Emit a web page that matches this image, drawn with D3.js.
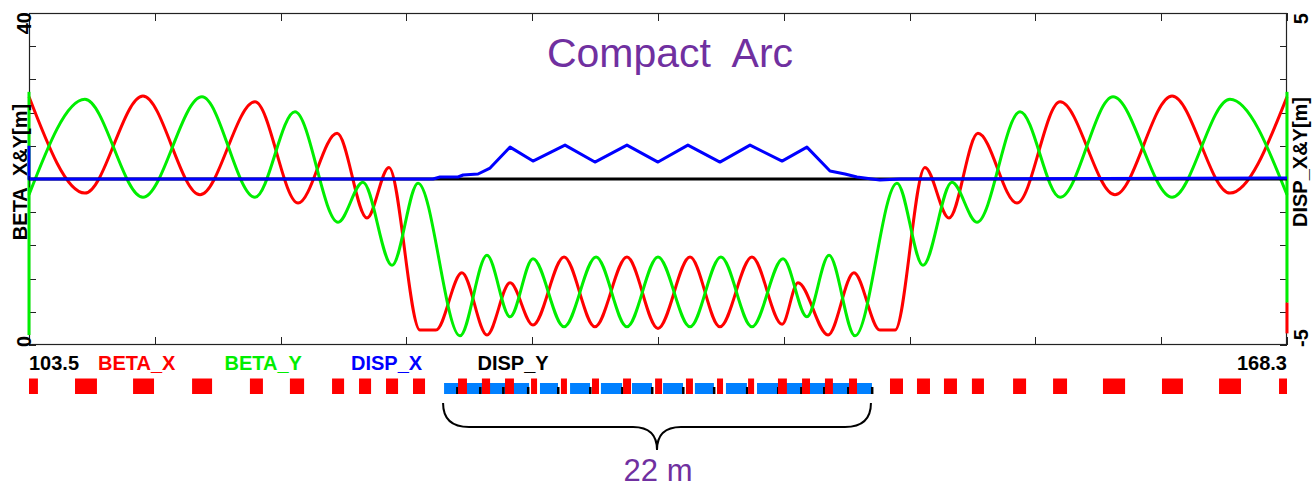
<!DOCTYPE html>
<meta charset="utf-8">
<style>
    body { margin: 0; background: #fff; }
    text { font-family: "Liberation Sans", Arial, sans-serif; }
    .lab { font-weight: bold; font-size: 20px; }
    .axis path { display: none; }
    .axis line { stroke: #222; shape-rendering: crispEdges; }
    .curve { fill: none; stroke-width: 3; stroke-linejoin: round; }
</style>
<body>
<script src="https://cdn.jsdelivr.net/npm/d3@7"></script>
<script>

// lattice range [m]
var sRange = [103.5, 168.3];

// BETA_X [m] (s, beta)
var betaX = [
    [103.5, 29.9], [106.38, 18.3], [109.37, 30.0], [112.31, 18.1], [115.14, 29.3],
    [117.36, 17.1], [119.37, 25.5], [120.91, 15.3], [122.04, 21.4], [123.64, 1.8],
    [124.46, 1.8], [125.8, 8.7], [127.09, 1.2], [128.28, 7.5], [129.46, 2.4],
    [131.06, 10.6], [132.65, 2.2], [134.3, 10.6], [135.9, 2.0], [137.55, 10.6],
    [139.09, 2.2], [140.74, 10.6], [142.29, 2.5], [143.11, 7.5], [144.66, 1.2],
    [145.99, 8.7], [147.33, 1.8], [148.11, 1.8], [149.65, 21.4], [150.89, 15.3],
    [152.38, 25.5], [154.39, 17.1], [156.61, 29.3], [159.44, 18.1], [162.38, 30.0],
    [165.36, 18.3], [168.3, 29.9]
];

// BETA_Y [m]
var betaY = [
    [103.5, 18.1], [106.38, 29.6], [109.37, 17.8], [112.41, 29.9], [115.14, 17.8],
    [117.2, 28.1], [119.42, 14.8], [120.7, 19.6], [122.2, 9.6], [123.54, 19.5],
    [125.7, 1.1], [127.09, 10.8], [128.28, 3.4], [129.46, 10.4], [131.06, 2.2],
    [132.71, 10.6], [134.3, 2.2], [135.9, 10.6], [137.55, 2.2], [139.14, 10.6],
    [140.74, 2.2], [142.34, 10.4], [143.57, 3.4], [144.71, 10.8], [146.05, 1.1],
    [148.21, 19.5], [149.55, 9.6], [151.04, 19.6], [152.33, 14.8], [154.55, 28.1],
    [156.61, 17.8], [159.34, 29.9], [162.38, 17.8], [165.36, 29.6], [168.3, 18.1]
];

// DISP_X [m]
var dispX = [
    [103.5, 1.0], [103.5, 0], [124.31, 0], [124.67, 0.06], [125.6, 0.06], [125.86, 0.12],
    [126.63, 0.15], [127.25, 0.33], [128.28, 0.96], [129.46, 0.54], [131.11, 1.02],
    [132.65, 0.51], [134.3, 1.02], [135.9, 0.51], [137.44, 1.02], [139.09, 0.51],
    [140.64, 1.02], [142.29, 0.54], [143.57, 0.96], [144.76, 0.24], [145.53, 0.15],
    [146.15, 0.06], [146.92, 0], [147.33, -0.03], [148.36, 0], [168.3, 0.03]
];

// DISP_Y [m]
var dispY = [[103.5, 0], [168.3, 0]];

// vertical end segments of the beta traces
var betaYEdges = [[[103.5, 1.2], [103.5, 30.5]], [[168.3, 5.1], [168.3, 30.5]]];
var betaXEdges = [[[168.3, 1.4], [168.3, 5.1]]];

// magnet layout [m]
var quads = [
    [103.5, 103.96], [105.87, 107.0], [108.86, 109.94], [111.9, 112.93], [114.88, 115.55],
    [116.94, 117.67], [119.11, 119.73], [120.5, 121.12], [121.89, 122.51], [123.28, 123.9],
    [125.6, 126.06], [126.83, 127.25], [128.02, 128.48], [129.36, 129.67], [130.9, 131.21],
    [132.5, 132.86], [134.1, 134.51], [135.75, 136.11], [137.34, 137.7], [138.94, 139.25],
    [140.54, 140.85], [142.08, 142.54], [143.32, 143.73], [144.5, 144.91], [145.74, 146.15],
    [147.85, 148.52], [149.24, 149.91], [150.63, 151.3], [152.07, 152.69], [154.19, 154.86],
    [156.25, 156.97], [158.82, 159.96], [161.86, 162.94], [164.8, 165.93], [167.89, 168.3]
];
var dipoles = [
    [124.88, 129.26], [129.82, 130.75], [131.37, 132.4], [132.96, 134.05], [134.56, 135.59],
    [136.16, 137.19], [137.8, 138.78], [139.4, 140.48], [141.0, 146.92]
];
var markers = [125.55, 126.73, 127.92, 129.2, 130.75, 132.4, 134.05, 135.59, 137.19,
    138.78, 140.48, 142.08, 143.27, 144.45, 145.69, 146.92];

var legend = [
    { name: "BETA_X", color: "#ff0000" },
    { name: "BETA_Y", color: "#00ee00" },
    { name: "DISP_X", color: "#0000ff" },
    { name: "DISP_Y", color: "#000000" }
];

var width = 1312, height = 488;
var plotL = 29, plotR = 1287, plotT = 13, plotB = 345;

var svg = d3.select("body").append("svg")
    .attr("width", width)
    .attr("height", height);

var x = d3.scaleLinear().domain(sRange).range([plotL, plotR]);
var yB = d3.scaleLinear().domain([0, 40]).range([plotB, plotT]);
var yD = d3.scaleLinear().domain([-5, 5]).range([plotB, plotT]);

var xTicks = d3.range(11).map(function (i) { return sRange[0] + i * (sRange[1] - sRange[0]) / 10; });

svg.append("g").attr("class", "axis")
    .attr("transform", "translate(0," + plotB + ")")
    .call(d3.axisBottom(x).tickValues(xTicks).tickSize(-8).tickSizeOuter(0).tickFormat(""));
svg.append("g").attr("class", "axis")
    .attr("transform", "translate(0," + plotT + ")")
    .call(d3.axisTop(x).tickValues(xTicks).tickSize(-8).tickSizeOuter(0).tickFormat(""));
svg.append("g").attr("class", "axis")
    .attr("transform", "translate(" + plotL + ",0)")
    .call(d3.axisLeft(yB).tickValues(d3.range(0, 41, 4)).tickSize(-7).tickSizeOuter(0).tickFormat(""));
svg.append("g").attr("class", "axis")
    .attr("transform", "translate(" + plotR + ",0)")
    .call(d3.axisRight(yD).tickValues(d3.range(-5, 6, 1)).tickSize(-7).tickSizeOuter(0).tickFormat(""));

svg.append("rect")
    .attr("x", plotL + 0.5).attr("y", plotT + 0.5)
    .attr("width", plotR - plotL - 1).attr("height", plotB - plotT - 1)
    .attr("fill", "none").attr("stroke", "#222").attr("stroke-width", 1.2);

// curves
var lineB = d3.line()
    .x(function (d) { return x(d[0]); })
    .y(function (d) { return yB(d[1]); })
    .curve(d3.curveMonotoneX);
var lineBEdge = d3.line()
    .x(function (d) { return x(d[0]); })
    .y(function (d) { return yB(d[1]); });
var lineD = d3.line()
    .x(function (d) { return x(d[0]); })
    .y(function (d) { return yD(d[1]); });

svg.append("path").attr("class", "curve").attr("stroke", "#ff0000").attr("d", lineB(betaX));
svg.append("path").attr("class", "curve").attr("stroke", "#00ee00").attr("d", lineB(betaY));
betaYEdges.forEach(function (e) {
    svg.append("path").attr("class", "curve").attr("stroke", "#00ee00").attr("d", lineBEdge(e));
});
betaXEdges.forEach(function (e) {
    svg.append("path").attr("class", "curve").attr("stroke", "#ff0000").attr("d", lineBEdge(e));
});
svg.append("path").attr("class", "curve").attr("stroke", "#000").attr("stroke-width", 1.3).attr("d", lineD(dispY));
svg.append("path").attr("class", "curve").attr("stroke", "#0000ff").attr("d", lineD(dispX));

// axis labels
function vtext(tx, ty, anchor, str) {
    svg.append("text").attr("class", "lab")
        .attr("transform", "translate(" + tx + "," + ty + ") rotate(-90)")
        .attr("text-anchor", anchor)
        .text(str);
}
vtext(31, yB(40) - 1, "end", "40");
vtext(31, yB(0) + 2, "start", "0");
vtext(27, 172, "middle", "BETA_X&Y[m]");
vtext(1308, yD(5), "end", "5");
vtext(1308, yD(-5) + 2, "start", "-5");
vtext(1307, 162, "middle", "DISP_X&Y[m]");

svg.append("text").attr("class", "lab").attr("x", plotL).attr("y", 370).text(sRange[0].toFixed(1));
svg.append("text").attr("class", "lab").attr("x", plotR).attr("y", 370)
    .attr("text-anchor", "end").text(sRange[1].toFixed(1));

svg.selectAll(".leg").data(legend).enter().append("text")
    .attr("class", "lab leg")
    .attr("x", function (d, i) { return 98 + i * 126.5; })
    .attr("y", 370)
    .attr("fill", function (d) { return d.color; })
    .text(function (d) { return d.name; });

// magnet bar
var bar = svg.append("g");
bar.selectAll(".dip").data(dipoles).enter().append("rect")
    .attr("x", function (d) { return x(d[0]); })
    .attr("width", function (d) { return x(d[1]) - x(d[0]); })
    .attr("y", 383).attr("height", 11)
    .attr("fill", "#0080ff");
bar.selectAll(".mk").data(markers).enter().append("rect")
    .attr("x", function (d) { return x(d) - 1; })
    .attr("width", 2.5)
    .attr("y", 387).attr("height", 7)
    .attr("fill", "#000");
bar.selectAll(".qd").data(quads).enter().append("rect")
    .attr("x", function (d) { return x(d[0]); })
    .attr("width", function (d) { return x(d[1]) - x(d[0]); })
    .attr("y", 378.5).attr("height", 15.5)
    .attr("fill", "#ff0000");

// brace under the arc
var b0 = x(dipoles[0][0]) - 1, b1 = x(dipoles[dipoles.length - 1][1]) - 1, bm = (b0 + b1) / 2;
svg.append("path")
    .attr("d", "M" + b0 + ",403 Q" + b0 + ",427 " + (b0 + 26) + ",427 L" + (bm - 24) + ",427 Q" + bm + ",427 " + bm + ",450" +
        " Q" + bm + ",427 " + (bm + 24) + ",427 L" + (b1 - 26) + ",427 Q" + b1 + ",427 " + b1 + ",403")
    .attr("fill", "none").attr("stroke", "#000").attr("stroke-width", 2);

svg.append("text").attr("x", bm + 1).attr("y", 481)
    .attr("text-anchor", "middle")
    .attr("font-size", 31).attr("fill", "#7030a0")
    .text(Math.round(dipoles[dipoles.length - 1][1] - dipoles[0][0]) + " m");

svg.append("text").attr("x", 670).attr("y", 67)
    .attr("text-anchor", "middle")
    .attr("font-size", 41).attr("fill", "#7030a0")
    .style("white-space", "pre")
    .text("Compact  Arc");

</script>
</body>
